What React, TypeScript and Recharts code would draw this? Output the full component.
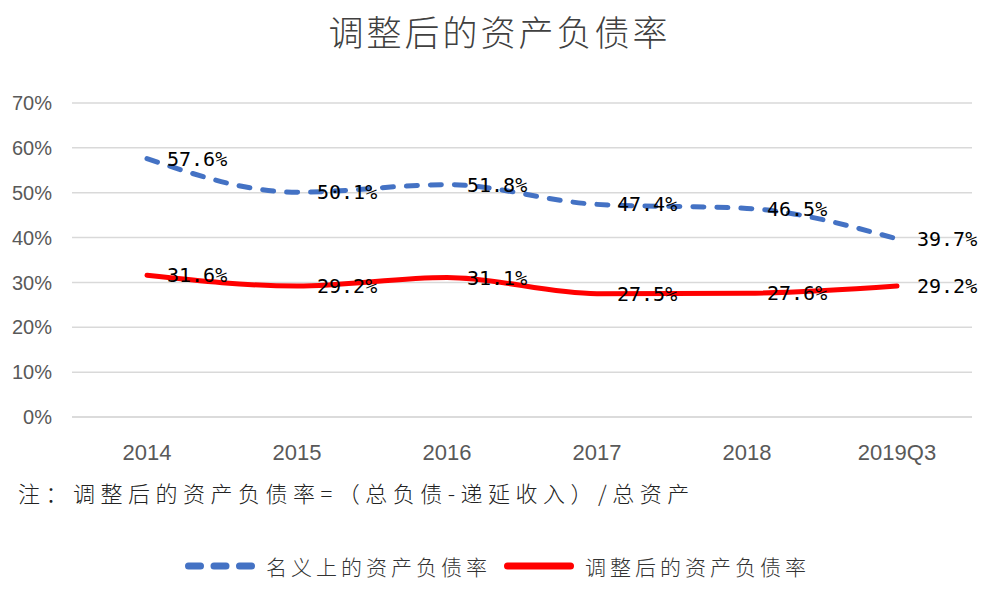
import { LineChart, Line, XAxis, YAxis, CartesianGrid, LabelList } from "recharts";

const years = ["2014", "2015", "2016", "2017", "2018", "2019Q3"];
const nominalRatio = [57.6, 50.1, 51.8, 47.4, 46.5, 39.7];
const adjustedRatio = [31.6, 29.2, 31.1, 27.5, 27.6, 29.2];
const yTicks = [0, 10, 20, 30, 40, 50, 60, 70];

const data = years.map((year, i) => ({
  year,
  nominal: nominalRatio[i],
  adjusted: adjustedRatio[i],
}));

const CJK = '"Noto Sans CJK SC", "Noto Sans", sans-serif';
const TICK_FONT = '"Liberation Sans", Arial, sans-serif';
const BLUE = "#4472C4";
const RED = "#FF0000";

function LegendItem({ dashed, color, label, gapAfter }: { dashed: boolean; color: string; label: string; gapAfter: number }) {
  return (
    <div style={{ display: "flex", alignItems: "center", marginRight: gapAfter }}>
      <svg width={70} height={12} style={{ marginRight: 11 }}>
        <line
          x1={3.5}
          y1={6}
          x2={66.5}
          y2={6}
          stroke={color}
          strokeWidth={7}
          strokeLinecap="round"
          strokeDasharray={dashed ? "12 13.5" : undefined}
        />
      </svg>
      <span style={{ fontFamily: CJK, fontSize: 21, fontWeight: 300, letterSpacing: 4, color: "#333" }}>
        {label}
      </span>
    </div>
  );
}

export default function App() {
  return (
    <div style={{ position: "absolute", left: 0, top: 0, width: 999, height: 599, background: "#fff" }}>
      <div
        style={{
          position: "absolute",
          top: 5,
          width: 999,
          textAlign: "center",
          fontFamily: CJK,
          fontSize: 35,
          fontWeight: 300,
          letterSpacing: 3,
          color: "#404040",
        }}
      >
        调整后的资产负债率
      </div>
      <LineChart
        width={999}
        height={599}
        data={data}
        margin={{ top: 103, right: 27, left: 12, bottom: 142 }}
      >
        <CartesianGrid vertical={false} stroke="#D9D9D9" strokeWidth={1.5} />
        <XAxis
          dataKey="year"
          padding={{ left: 75, right: 75 }}
          axisLine={{ stroke: "#D9D9D9", strokeWidth: 1.5 }}
          tickLine={false}
          tickSize={0}
          tickMargin={27}
          height={40}
          tick={{ fill: "#595959", fontSize: 22, fontFamily: TICK_FONT }}
        />
        <YAxis
          domain={[0, 70]}
          ticks={yTicks}
          tickFormatter={(v: number) => `${v}%`}
          axisLine={false}
          tickLine={false}
          tickSize={0}
          tickMargin={20}
          width={60}
          tick={{ fill: "#595959", fontSize: 20, fontFamily: TICK_FONT }}
        />
        <Line
          type="monotone"
          dataKey="nominal"
          stroke={BLUE}
          strokeWidth={5}
          strokeDasharray="11 13"
          strokeLinecap="round"
          dot={false}
          isAnimationActive={false}
        >
          <LabelList
            dataKey="nominal"
            position="right"
            offset={20}
            formatter={(v: number) => `${v.toFixed(1)}%`}
            style={{ fill: "#000", fontSize: 20, fontFamily: '"DejaVu Sans Mono", monospace' }}
          />
        </Line>
        <Line
          type="monotone"
          dataKey="adjusted"
          stroke={RED}
          strokeWidth={5}
          strokeLinecap="round"
          dot={false}
          isAnimationActive={false}
        >
          <LabelList
            dataKey="adjusted"
            position="right"
            offset={20}
            formatter={(v: number) => `${v.toFixed(1)}%`}
            style={{ fill: "#000", fontSize: 20, fontFamily: '"DejaVu Sans Mono", monospace' }}
          />
        </Line>
      </LineChart>
      <div
        style={{
          position: "absolute",
          left: 18,
          top: 476,
          fontFamily: CJK,
          fontSize: 22,
          fontWeight: 300,
          letterSpacing: 5.5,
          color: "#222",
          whiteSpace: "nowrap",
        }}
      >
        注：调整后的资产负债率=（总负债-递延收入）/总资产
      </div>
      <div
        style={{
          position: "absolute",
          left: 185,
          top: 551,
          display: "flex",
          alignItems: "center",
        }}
      >
        <LegendItem dashed color={BLUE} label="名义上的资产负债率" gapAfter={13} />
        <LegendItem dashed={false} color={RED} label="调整后的资产负债率" gapAfter={0} />
      </div>
    </div>
  );
}
